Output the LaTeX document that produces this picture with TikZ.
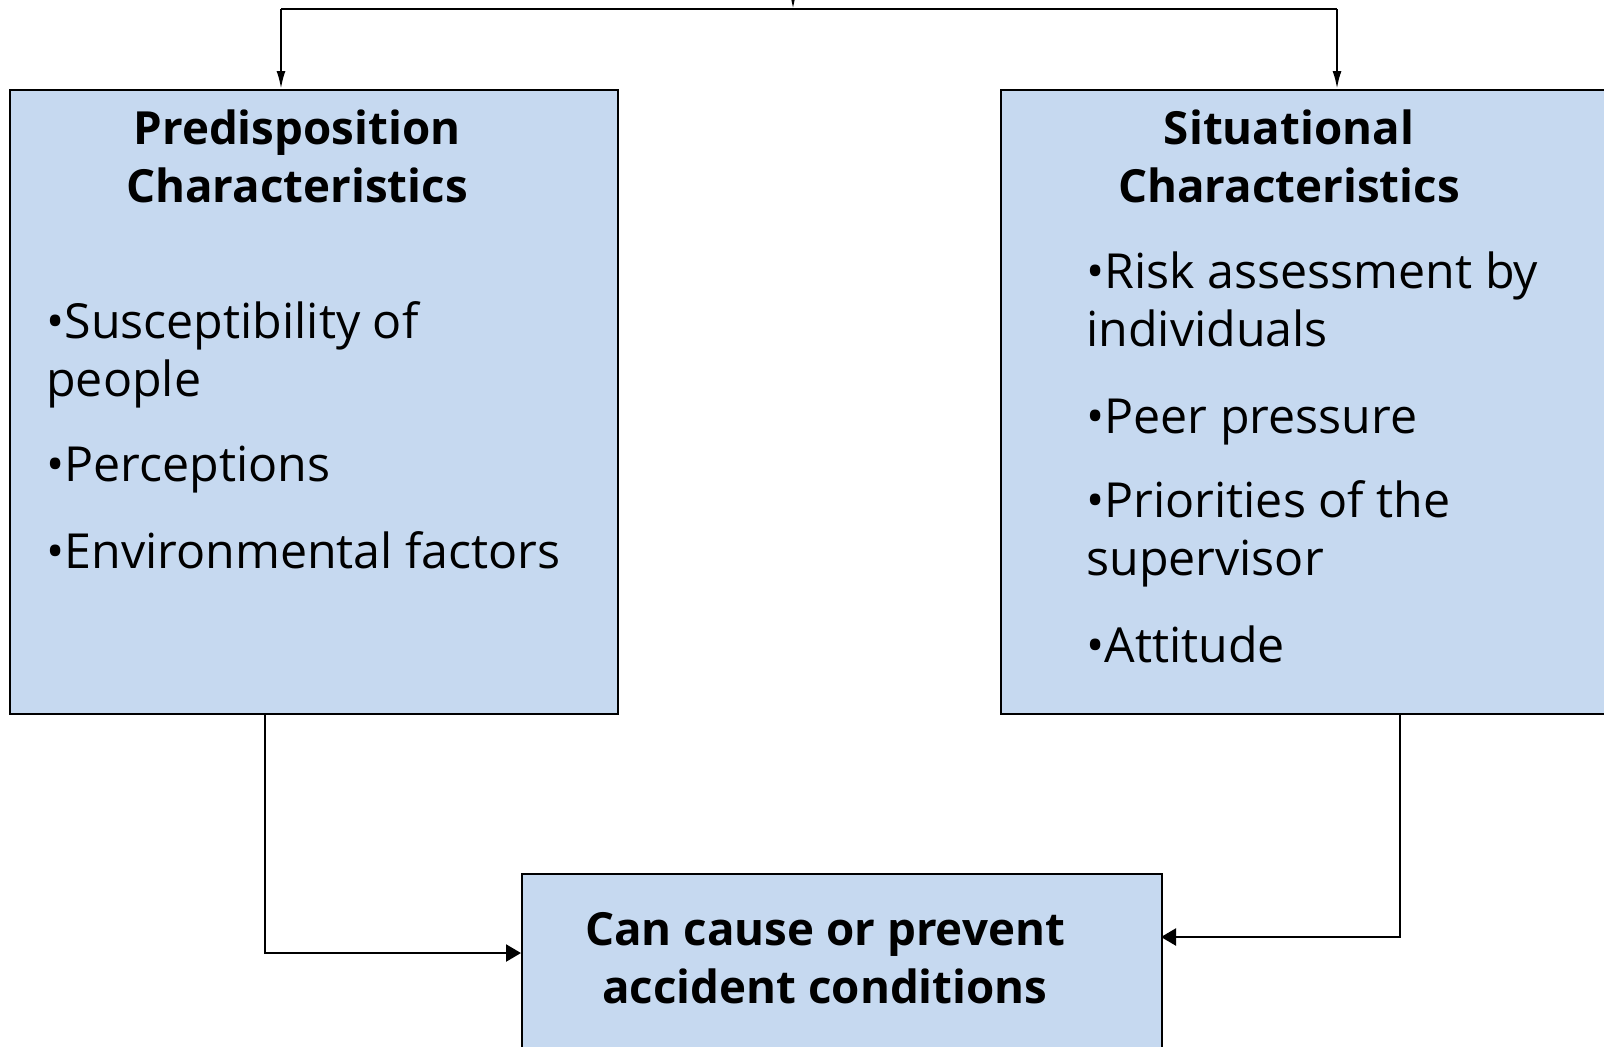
\documentclass[tikz,border=0pt]{standalone}
\usepackage{fontspec}
\setmainfont{Open Sans}
\usetikzlibrary{arrows.meta}
\definecolor{boxblue}{RGB}{198,217,240}

\begin{document}
\begin{tikzpicture}[x=0.02cm, y=-0.02cm,
  box/.style = {draw, fill=boxblue, line width=1.3pt, inner sep=0pt, anchor=north west},
  head/.style = {font=\fontsize{26}{32.5}\selectfont\bfseries, align=center, anchor=base, inner sep=0pt},
  item/.style = {font=\fontsize{27.5}{32.5}\selectfont, align=left, anchor=base west, inner sep=0pt},
  link/.style = {line width=1.3pt},
  down/.style = {line width=1.3pt, -{Latex[length=0.36cm, width=0.18cm]}},
  into/.style = {line width=1.3pt, -{Triangle[length=0.3cm, width=0.34cm]}}]
\useasboundingbox (0,0) rectangle (1604,1046);
\clip (0,0) rectangle (1604,1046);

\node[box, minimum width=12.16cm, minimum height=12.48cm] (pred) at (9,89) {};
\node[box, minimum width=12.4cm, minimum height=12.48cm] (situ) at (1000,89) {};
\node[box, minimum width=12.8cm, minimum height=4cm] (result) at (521,873) {};

\node[head] (predT) at (297,202) {Predisposition\\Characteristics};
\node[item] (p1) at (46,396) {•Susceptibility of\\people};
\node[item] (p2) at (46,481) {•Perceptions};
\node[item] (p3) at (46,568) {•Environmental factors};

\node[head] (situT) at (1289,202) {Situational\\Characteristics};
\node[item] (s1) at (1086,346) {•Risk assessment by\\individuals};
\node[item] (s2) at (1086,433) {•Peer pressure};
\node[item] (s3) at (1086,575) {•Priorities of the\\supervisor};
\node[item] (s4) at (1086,662) {•Attitude};

\node[head] (resultT) at (825,1003) {Can cause or prevent\\accident conditions};

\coordinate (src) at (793,-40);
\coordinate (fork) at (793,9);
\coordinate (forkL) at (281,9);
\coordinate (forkR) at (1337,9);
\coordinate (predOut) at (265,713);
\coordinate (situOut) at (1400,713);
\coordinate (inL) at (521,953);
\coordinate (inR) at (1161,937);

\draw[down] (src) -- (fork);
\draw[link] (forkL) -- (forkR);
\draw[down] (forkL) -- (forkL |- pred.north);
\draw[down] (forkR) -- (forkR |- situ.north);
\draw[into] (predOut) |- (inL);
\draw[into] (situOut) |- (inR);
\end{tikzpicture}
\end{document}
